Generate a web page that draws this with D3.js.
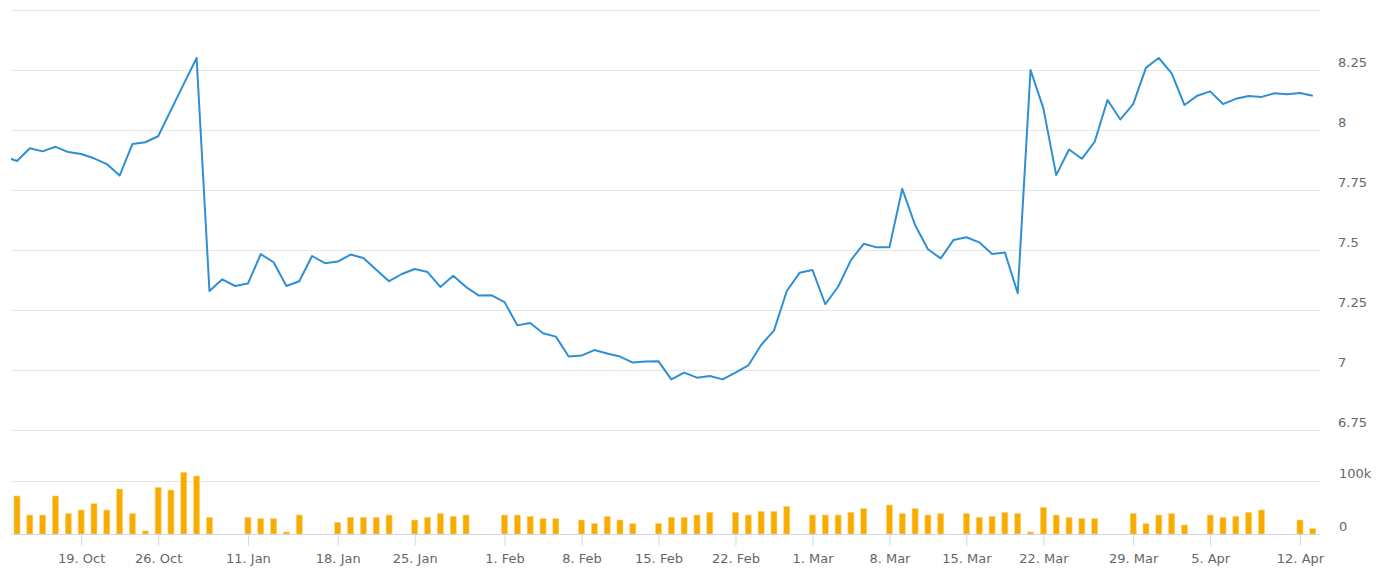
<!DOCTYPE html>
<html>
<head>
<meta charset="utf-8">
<script src="https://cdn.jsdelivr.net/npm/d3@7"></script>
<style>
  body { margin: 0; background: #fff; }
  svg { display: block; font-family: "DejaVu Sans", Verdana, sans-serif; }
</style>
</head>
<body>
<svg id="chart" width="1385" height="580"></svg>
<script>
// one entry per trading point, first one sits just left of the visible area
const closes = [7.89,
  7.871, 7.924, 7.911, 7.930, 7.908, 7.900, 7.882, 7.858, 7.810, 7.942,
  7.949, 7.974, 8.083, 8.192, 8.300, 7.329, 7.378, 7.350, 7.360, 7.483,
  7.449, 7.350, 7.370, 7.475, 7.445, 7.452, 7.481, 7.467, 7.418, 7.370,
  7.400, 7.421, 7.408, 7.346, 7.393, 7.346, 7.310, 7.311, 7.283, 7.186,
  7.196, 7.153, 7.139, 7.056, 7.060, 7.083, 7.069, 7.056, 7.031, 7.035,
  7.036, 6.961, 6.989, 6.968, 6.975, 6.961, 6.989, 7.019, 7.104, 7.164,
  7.329, 7.405, 7.417, 7.274, 7.347, 7.458, 7.526, 7.511, 7.511, 7.755,
  7.604, 7.503, 7.465, 7.542, 7.553, 7.532, 7.483, 7.490, 7.320, 8.250,
  8.090, 7.812, 7.919, 7.880, 7.951, 8.125, 8.044, 8.108, 8.260, 8.300,
  8.236, 8.104, 8.143, 8.161, 8.108, 8.130, 8.142, 8.138, 8.153, 8.149,
  8.154, 8.143];

const volumes = [null,
  71700, 35800, 35800, 71700, 38400, 45300, 57200, 45300, 84900, 38400,
  5700, 88000, 83000, 116400, 109400, 31400, null, null, 31400, 28900,
  28900, 3800, 35800, null, null, 22000, 31400, 31400, 31400, 35800,
  null, 26400, 31400, 38400, 33300, 35800, null, null, 35800, 35800,
  33300, 28900, 28900, null, 26400, 19500, 33300, 26400, 19500, null,
  19500, 31400, 31400, 35800, 40900, null, 40900, 35800, 42800, 42800,
  52200, null, 35800, 35800, 35800, 40900, 47800, null, 54700, 38400,
  47800, 35800, 38400, null, 38400, 31400, 33300, 40900, 38400, 3800,
  50300, 35800, 31400, 28900, 28900, null, null, 38400, 19500, 35800,
  38400, 17000, null, 35800, 31400, 33300, 40900, 45300, null, null,
  26400, 10000];

const tickLabels = ["19. Oct", "26. Oct", "11. Jan", "18. Jan", "25. Jan", "1. Feb",
  "8. Feb", "15. Feb", "22. Feb", "1. Mar", "8. Mar", "15. Mar", "22. Mar",
  "29. Mar", "5. Apr", "12. Apr"];
const tickIdx = [6, 12, 19, 26, 32, 39, 45, 51, 57, 63, 69, 75, 81, 88, 94, 101];

const priceTicks = [6.75, 7, 7.25, 7.5, 7.75, 8, 8.25, 8.5];
const volumeTicks = [0, 100000];

const svg = d3.select("#chart");
const left = 11, right = 1320;

const x = d3.scaleLinear().domain([1, 102]).range([17, 1312.8]);
const yPrice = d3.scaleLinear().domain([6.75, 8.5]).range([430, 10]);
const yVol = d3.scaleLinear().domain([0, 100000]).range([534, 481]);

svg.append("defs").append("clipPath").attr("id", "plot")
  .append("rect").attr("x", left).attr("y", 0).attr("width", right - left).attr("height", 540);

// grid
svg.append("g").selectAll("line").data(priceTicks).join("line")
  .attr("x1", left).attr("x2", right)
  .attr("y1", d => Math.round(yPrice(d)) + 0.5).attr("y2", d => Math.round(yPrice(d)) + 0.5)
  .attr("stroke", "#e6e6e6");
svg.append("g").selectAll("line").data(volumeTicks.slice(1)).join("line")
  .attr("x1", left).attr("x2", right)
  .attr("y1", d => Math.round(yVol(d)) + 0.5).attr("y2", d => Math.round(yVol(d)) + 0.5)
  .attr("stroke", "#e6e6e6");

// right labels
svg.append("g").selectAll("text").data(priceTicks.filter(d => d < 8.5)).join("text")
  .attr("x", 1338).attr("y", d => yPrice(d) - 3)
  .attr("fill", "#666").attr("font-size", 13)
  .text(d => d3.format("~g")(d));
svg.append("g").selectAll("text").data(volumeTicks).join("text")
  .attr("x", 1339).attr("y", d => yVol(d) - 3)
  .attr("fill", "#666").attr("font-size", 13)
  .text(d => d === 0 ? "0" : d / 1000 + "k");

// volume bars
svg.append("g").attr("clip-path", "url(#plot)")
  .selectAll("rect").data(volumes.map((v, i) => [i, v]).filter(d => d[1] != null)).join("rect")
  .attr("x", d => x(d[0]) - 3).attr("width", 6)
  .attr("y", d => yVol(d[1])).attr("height", d => yVol(0) - yVol(d[1]))
  .attr("fill", "#f8ab00").attr("stroke", "#fcd57a").attr("stroke-width", 0.6);

// price line
const line = d3.line().x((d, i) => x(i)).y(d => yPrice(d));
svg.append("path").attr("clip-path", "url(#plot)")
  .datum(closes).attr("d", line)
  .attr("fill", "none").attr("stroke", "#2f8fd5").attr("stroke-width", 2)
  .attr("stroke-linejoin", "round");

// x axis
const xAxis = svg.append("g").attr("transform", "translate(0,534.5)")
  .call(d3.axisBottom(x).tickValues(tickIdx).tickSize(11).tickPadding(8)
    .tickFormat((d, i) => tickLabels[i]));
xAxis.select(".domain").attr("d", `M${left},0H${right}`).attr("stroke", "#ccd6eb");
xAxis.selectAll(".tick line").attr("stroke", "#ccd6eb");
xAxis.selectAll(".tick text").attr("fill", "#666").attr("font-size", 13)
  .attr("font-family", "DejaVu Sans, Verdana, sans-serif");
</script>
</body>
</html>
